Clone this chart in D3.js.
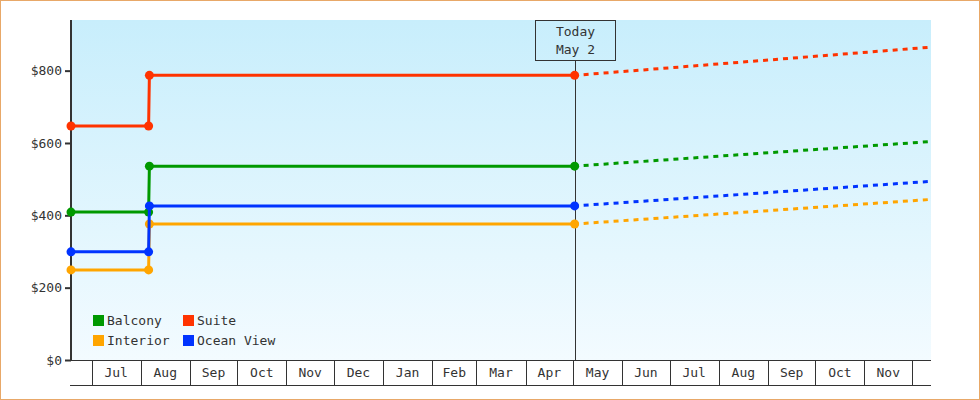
<!DOCTYPE html>
<html><head><meta charset="utf-8">
<script src="https://cdn.jsdelivr.net/npm/d3@7"></script>
<style>
html,body{margin:0;padding:0;background:#fff;}
svg{display:block;}
text{font-family:"DejaVu Sans Mono",monospace;font-size:13px;fill:#333;}
</style></head>
<body>
<svg id="chart" width="980" height="400"></svg>
<script>
// ---- data ----
const histDates = ["2018-06-18T00:00:00Z","2018-08-06T00:00:00Z","2018-08-06T12:00:00Z","2019-05-02T00:00:00Z"];
const balcony   = [409, 409, 536, 536];
const suite     = [647, 647, 787, 787];
const interior  = [249, 249, 376, 376];
const oceanView = [299, 299, 426, 426];
const forecastDates = ["2019-05-02T00:00:00Z","2019-12-13T00:00:00Z"];
const balconyForecast   = [536, 604];
const suiteForecast     = [787, 865];
const interiorForecast  = [376, 444];
const oceanViewForecast = [426, 494];
const seriesNames = ["Balcony","Suite","Interior","Ocean View"];
const seriesColors = ["#009900","#ff3300","#ffa500","#0033ff"];
const yTicks = [0,200,400,600,800];
const todayDate = "2019-05-02T00:00:00Z";
const todayLabel = ["Today","May 2"];
const domainDates = ["2018-06-18T00:00:00Z","2019-12-13T00:00:00Z"];

// ---- layout ----
const parse = d3.isoParse;
const svg = d3.select("#chart");
const L = 71, R = 931, T = 20, B = 360, AXB = 385;

const x = d3.scaleUtc().domain(domainDates.map(parse)).range([L, R]);
const y = d3.scaleLinear().domain([0, 940]).range([B, T]);

const defs = svg.append("defs");
const grad = defs.append("linearGradient").attr("id","bg").attr("x1",0).attr("y1",0).attr("x2",0).attr("y2",1);
grad.append("stop").attr("offset","0%").attr("stop-color","#c8eefc");
grad.append("stop").attr("offset","100%").attr("stop-color","#f3fbff");
defs.append("clipPath").attr("id","clip").append("rect").attr("x",L-6).attr("y",T).attr("width",R-L+6).attr("height",B-T);

svg.append("rect").attr("x",L).attr("y",T).attr("width",R-L).attr("height",B-T).attr("fill","url(#bg)");

// x axis band
const months = d3.utcMonth.range(d3.utcMonth.ceil(x.domain()[0]), x.domain()[1]);
const band = svg.append("g");
band.append("line").attr("x1",L-1).attr("x2",R).attr("y1",B+0.5).attr("y2",B+0.5).attr("stroke","#333");
band.append("line").attr("x1",L-1).attr("x2",R).attr("y1",AXB+0.5).attr("y2",AXB+0.5).attr("stroke","#333");
band.selectAll("line.mt").data(months).join("line").attr("class","mt")
  .attr("x1",d=>Math.round(x(d))+0.5).attr("x2",d=>Math.round(x(d))+0.5)
  .attr("y1",B).attr("y2",AXB).attr("stroke","#333");
const fullMonths = months.filter(m => d3.utcMonth.offset(m,1) <= x.domain()[1]);
const fmt = d3.utcFormat("%b");
band.selectAll("text.ml").data(fullMonths).join("text").attr("class","ml")
  .attr("x",d=>(x(d)+x(d3.utcMonth.offset(d,1)))/2).attr("y",(B+AXB)/2+1)
  .attr("text-anchor","middle").attr("dominant-baseline","middle").text(d=>fmt(d));

// y axis
const yAxis = d3.axisLeft(y).tickValues(yTicks).tickSize(6).tickPadding(3).tickFormat(d=>"$"+d);
const yg = svg.append("g").attr("transform",`translate(${L},0)`).call(yAxis);
yg.select(".domain").remove();
yg.selectAll(".tick line").attr("stroke","#333").attr("stroke-width",2);
yg.selectAll(".tick text").attr("fill","#333").style("font-size","13px").style("font-family","DejaVu Sans Mono");
svg.append("line").attr("x1",L).attr("x2",L).attr("y1",T).attr("y2",B+1).attr("stroke","#333").attr("stroke-width",2);

// today marker
const tx = x(parse(todayDate));
svg.append("line").attr("x1",Math.round(tx)+0.5).attr("x2",Math.round(tx)+0.5).attr("y1",T+40).attr("y2",B).attr("stroke","#333");
svg.append("rect").attr("x",Math.round(tx)-39.5).attr("y",T+0.5).attr("width",80).attr("height",40)
  .attr("fill","none").attr("stroke","#333");
svg.selectAll("text.today").data(todayLabel).join("text").attr("class","today")
  .attr("x",Math.round(tx)+0.5).attr("y",(d,i)=>T+12+i*18).attr("text-anchor","middle")
  .attr("dominant-baseline","middle").text(d=>d);

// series
const hist = [balcony, suite, interior, oceanView];
const fc = [balconyForecast, suiteForecast, interiorForecast, oceanViewForecast];
const drawOrder = [2,0,1,3];
const plot = svg.append("g").attr("clip-path","url(#clip)");
const line = d3.line().x(d=>x(d[0])).y(d=>y(d[1]));
drawOrder.forEach(i=>{
  const pts = histDates.map((d,k)=>[parse(d), hist[i][k]]);
  const fpts = forecastDates.map((d,k)=>[parse(d), fc[i][k]]);
  plot.append("path").attr("d",line(fpts)).attr("fill","none").attr("stroke",seriesColors[i])
    .attr("stroke-width",3).attr("stroke-dasharray","5,5").attr("stroke-dashoffset",-9);
  plot.append("path").attr("d",line(pts)).attr("fill","none").attr("stroke",seriesColors[i]).attr("stroke-width",3);
  plot.selectAll(null).data(pts).join("circle").attr("cx",d=>x(d[0])).attr("cy",d=>y(d[1]))
    .attr("r",4.5).attr("fill",seriesColors[i]);
});

// legend
const lg = svg.append("g");
seriesNames.forEach((n,i)=>{
  const col = i%2, row = Math.floor(i/2);
  const gx = 93 + col*90, gy = 315 + row*20;
  lg.append("rect").attr("x",gx).attr("y",gy).attr("width",11).attr("height",11).attr("fill",seriesColors[i]);
  lg.append("text").attr("x",gx+14).attr("y",gy+6).attr("dominant-baseline","middle").text(n);
});

// outer border
svg.append("rect").attr("x",0.5).attr("y",0.5).attr("width",979).attr("height",399).attr("fill","none").attr("stroke","#e8a868");
</script>
</body></html>
